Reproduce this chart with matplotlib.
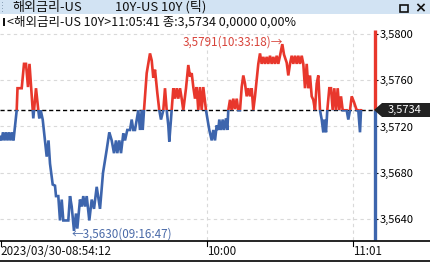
import matplotlib
matplotlib.use("Agg")
import matplotlib.pyplot as plt
from matplotlib.patches import Rectangle, Polygon
from matplotlib.lines import Line2D

plt.rcParams['font.family'] = ['Noto Sans CJK KR', 'DejaVu Sans']

# ---------------- data ----------------
tick_idx = [0, 1.5, 3, 4.5, 6, 7.5, 9, 10.5, 12, 13.5, 16.7, 17.5, 21.7, 24, 26, 28, 29.5,
            33.3, 36, 38.3, 39.3, 40.7, 42.7, 45, 46.7, 48.5, 50, 52.7, 55, 56, 58.3, 60,
            61.7, 63.3, 68.3, 70, 71.7, 74, 76, 77.3, 80, 81.7, 83.3, 85, 86.7, 89.3, 91.7,
            94, 96.7, 100, 103, 106.7, 109.3, 111.7, 114, 116, 117.3, 119.3, 121, 123.3,
            125, 127.3, 130, 131.7, 133.3, 135, 136.7, 138.3, 140, 141.7, 142.7, 144,
            146.7, 150, 151.7, 153.3, 155, 157.3, 159.3, 161, 163.3, 165, 166.7, 168.3,
            169.3, 171.7, 173.3, 175, 176.7, 178.3, 180, 181.7, 183.3, 186, 188.3, 190,
            191.7, 193.3, 195, 196.7, 198.3, 200, 201.7, 203.3, 206, 209.3, 211.7, 213.3,
            215, 216.7, 218.3, 219.3, 221, 222.7, 224, 226, 227.3, 228.3, 230, 231.7,
            233.3, 235, 236.7, 238.3, 240, 241.7, 243.3, 245, 246.7, 248.3, 250, 251.7,
            253.3, 255, 256.7, 258.3, 260, 261.7, 263.3, 265, 266.7, 268.3, 270, 271.7,
            273.3, 275, 276.7, 278.3, 280, 282.3, 284, 286.7, 288.3, 290, 291.7, 293.3,
            295, 296.7, 298.3, 300, 301.7, 303.3, 305, 306.7, 308.3, 310, 311.7, 313.3,
            315, 316.7, 318.3, 320, 321.7, 323.3, 324.3, 326, 327.3, 329.3, 331, 332.7,
            334.3, 336, 337.7, 339.3, 341, 342.7, 345, 346.7, 348.3, 350, 351.7, 354,
            356.7, 358.3, 360, 361]
price = [3.5711, 3.5708, 3.5715, 3.5708, 3.5715, 3.5708, 3.5715, 3.5708, 3.5715, 3.5708,
         3.5734, 3.5753, 3.5753, 3.5774, 3.5774, 3.5754, 3.5774, 3.5727, 3.5753, 3.5734,
         3.5727, 3.5734, 3.5726, 3.5708, 3.5694, 3.5708, 3.5688, 3.5670, 3.5669, 3.5660,
         3.5660, 3.5639, 3.5657, 3.5639, 3.5639, 3.5660, 3.5651, 3.5630, 3.5645, 3.5632,
         3.5657, 3.5651, 3.5660, 3.5651, 3.5660, 3.5639, 3.5657, 3.5649, 3.5668, 3.5649,
         3.5680, 3.5700, 3.5715, 3.5708, 3.5697, 3.5708, 3.5697, 3.5708, 3.5697, 3.5714,
         3.5708, 3.5717, 3.5717, 3.5726, 3.5717, 3.5717, 3.5726, 3.5734, 3.5717, 3.5734,
         3.5717, 3.5734, 3.5766, 3.5783, 3.5777, 3.5762, 3.5769, 3.5749, 3.5734, 3.5726,
         3.5734, 3.5753, 3.5734, 3.5721, 3.5707, 3.5734, 3.5753, 3.5744, 3.5753, 3.5744,
         3.5753, 3.5744, 3.5734, 3.5753, 3.5773, 3.5763, 3.5766, 3.5754, 3.5744, 3.5754,
         3.5734, 3.5754, 3.5734, 3.5754, 3.5734, 3.5717, 3.5708, 3.5717, 3.5708, 3.5721,
         3.5717, 3.5726, 3.5717, 3.5726, 3.5717, 3.5727, 3.5717, 3.5734, 3.5743, 3.5734,
         3.5744, 3.5735, 3.5744, 3.5734, 3.5734, 3.5754, 3.5764, 3.5757, 3.5746, 3.5753,
         3.5746, 3.5753, 3.5734, 3.5746, 3.5760, 3.5774, 3.5783, 3.5774, 3.5780, 3.5774,
         3.5780, 3.5774, 3.5781, 3.5774, 3.5780, 3.5774, 3.5781, 3.5774, 3.5781, 3.5791,
         3.5782, 3.5775, 3.5764, 3.5774, 3.5781, 3.5774, 3.5781, 3.5774, 3.5781, 3.5774,
         3.5781, 3.5774, 3.5753, 3.5774, 3.5753, 3.5764, 3.5746, 3.5743, 3.5734, 3.5757,
         3.5764, 3.5734, 3.5726, 3.5715, 3.5726, 3.5715, 3.5734, 3.5753, 3.5753, 3.5734,
         3.5753, 3.5734, 3.5753, 3.5734, 3.5746, 3.5734, 3.5734, 3.5734, 3.5726, 3.5734,
         3.5746, 3.5741, 3.5734, 3.5734, 3.5715, 3.5734]

base_price = 3.5734
y_ticks = [3.5640, 3.5680, 3.5720, 3.5760, 3.5800]
y_tick_labels = ["3,5640", "3,5680", "3,5720", "3,5760", "3,5800"]
x_tick_pos = [0, 207, 353]
x_tick_labels = ["2023/03/30-08:54:12", "10:00", "11:01"]
title_left = "해외금리-US"
title_right = "10Y-US 10Y (틱)"
info_text = "<해외금리-US 10Y>11:05:41 종:3,5734 0,0000 0,00%"
max_label = "3,5791(10:33:18)→"
min_label = "←3,5630(09:16:47)"
max_point = (282.3, 3.5791)
min_point = (74, 3.5630)

RED = "#e8372c"
BLUE = "#3d65ad"
FAM = ['Noto Sans CJK KR', 'DejaVu Sans']

W, H = 431, 262
fig = plt.figure(figsize=(W / 100, H / 100), dpi=100)
fig.patch.set_facecolor("white")


def fx(px):
    return px / W


def fy(py):
    return 1 - py / H


# plot area: x 0..374 px, y 30..240 px
PX0, PX1, PY0, PY1 = 0, 374, 30, 240
ax = fig.add_axes([fx(PX0), fy(PY1), fx(PX1 - PX0), (PY1 - PY0) / H])
ax.set_xlim(0, 374)
ymax = 3.5800 + (33.7 - 30) / 11.6 * 0.001
ymin = 3.5800 - (240 - 33.7) / 11.6 * 0.001
ax.set_ylim(ymin, ymax)
for s in ax.spines.values():
    s.set_visible(False)

# grid
for yv in y_ticks:
    ax.axhline(yv, color="#d9d9d9", lw=0.8, ls=(0, (3, 3)), zorder=1)
for xv in x_tick_pos[1:]:
    ax.axvline(xv, color="#d9d9d9", lw=0.8, ls=(0, (3, 3)), zorder=1)

# base line
ax.axhline(base_price, color="black", lw=1.0, ls=(0, (3, 2)), zorder=2)

# price line, red above base, blue below
lr, = ax.plot(tick_idx, price, color=RED, lw=1.9, zorder=3, solid_joinstyle="miter")
lb, = ax.plot(tick_idx, price, color=BLUE, lw=1.9, zorder=3, solid_joinstyle="miter")
clip_r = Rectangle((0, base_price), 374, ymax - base_price, transform=ax.transData)
clip_b = Rectangle((0, ymin), 374, base_price - ymin, transform=ax.transData)
lr.set_clip_path(clip_r)
lb.set_clip_path(clip_b)

# annotations
ax.text(max_point[0] + 1, max_point[1] + 0.00015, max_label, color="#d8433a", fontsize=8.4,
        ha="right", va="center", family=FAM)
ax.text(min_point[0] - 2, min_point[1] - 0.00025, min_label, color="#4a6aa8", fontsize=8.4,
        ha="left", va="center", family=FAM)

# right axis
ax.set_xticks([])
ax.yaxis.tick_right()
ax.set_yticks(y_ticks)
ax.set_yticklabels(y_tick_labels)
ax.set_yticks([3.5630 + 0.001 * i for i in range(18)], minor=True)
ax.tick_params(axis="y", which="major", length=3, width=0.8, pad=1, labelsize=8,
               colors="black")
ax.tick_params(axis="y", which="minor", length=1.5, width=0.8, colors="#555555")
yax = ax.get_yaxis_transform()
ax.plot([1.003, 1.003], [base_price, ymax], color=RED, lw=2.4, transform=yax, clip_on=False,
        zorder=5, solid_capstyle="butt")
ax.plot([1.003, 1.003], [ymin, base_price], color=BLUE, lw=2.4, transform=yax, clip_on=False,
        zorder=5, solid_capstyle="butt")

# current price box
box_y = 110
poly = Polygon([[fx(374), fy(box_y)], [fx(382), fy(103)], [fx(431), fy(103)],
                [fx(431), fy(117)], [fx(382), fy(117)]], closed=True,
               transform=fig.transFigure, facecolor="#222222", edgecolor="none", zorder=10)
fig.patches.append(poly)
fig.text(fx(405), fy(110), "3,5734", color="white", fontsize=8, ha="center", va="center",
         zorder=11)

# title bar
fig.patches.append(Rectangle((0, fy(14)), 1, 14 / H, transform=fig.transFigure,
                             facecolor="#d2e3f3", edgecolor="none"))
for yy in (3, 6, 9, 12):
    fig.patches.append(Rectangle((fx(2), fy(yy)), 1 / W, 1 / H, transform=fig.transFigure,
                                 facecolor="#8fa5bb", edgecolor="none"))
fig.text(fx(12), fy(7), title_left, fontsize=9.4, va="center", ha="left", color="#111111")
fig.text(fx(115), fy(7), title_right, fontsize=9.4, va="center", ha="left", color="#111111")
fig.patches.append(Rectangle((fx(400.5), fy(11.5)), 7.5 / W, 7 / H, transform=fig.transFigure,
                             facecolor="none", edgecolor="#111111", lw=1.2, zorder=5))
fig.add_artist(Line2D([fx(418), fx(424)], [fy(4.5), fy(10.5)], color="#111111", lw=1.2,
                      transform=fig.transFigure, zorder=5))
fig.add_artist(Line2D([fx(418), fx(424)], [fy(10.5), fy(4.5)], color="#111111", lw=1.2,
                      transform=fig.transFigure, zorder=5))

# info line
fig.patches.append(Rectangle((fx(3), fy(26)), 2 / W, 8 / H, transform=fig.transFigure,
                             facecolor="#111111", edgecolor="none"))
fig.text(fx(7), fy(22), info_text, fontsize=9.0, va="center", ha="left", color="#111111")

# x-axis band
fig.add_artist(Line2D([0, 1], [fy(241), fy(241)], color="black", lw=1.2,
                      transform=fig.transFigure))
fig.add_artist(Line2D([0, 1], [fy(261), fy(261)], color="black", lw=1.2,
                      transform=fig.transFigure))
for xp, lab in zip(x_tick_pos, x_tick_labels):
    px = max(xp, 1)
    fig.add_artist(Line2D([fx(px), fx(px)], [fy(241), fy(246)], color="black", lw=0.8,
                          transform=fig.transFigure))
    fig.text(fx(xp), fy(251.5), lab, fontsize=8.4, va="center", ha="left", color="#111111")

fig.savefig("out.png", dpi=100)
